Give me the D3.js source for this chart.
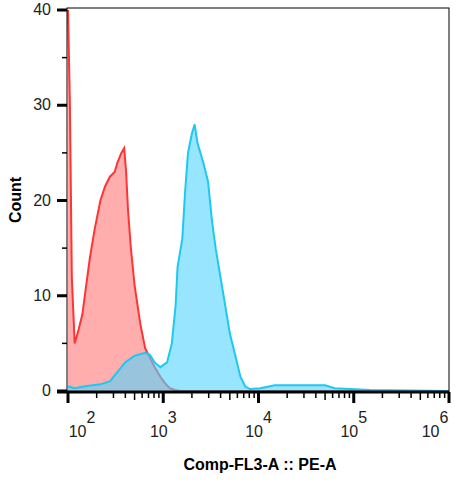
<!DOCTYPE html>
<html><head><meta charset="utf-8">
<script src="https://cdn.jsdelivr.net/npm/d3@7"></script>
<style>body{margin:0;background:#fff}text{font-family:"Liberation Sans",Arial,sans-serif}</style>
</head><body><svg id="c" width="469" height="484"></svg>
<script>
// log10 of intensity
const redLog = [2.00,2.02,2.04,2.07,2.10,2.15,2.19,2.23,2.28,2.34,2.39,2.44,2.49,2.52,2.56,2.59,2.61,2.63,2.66,2.70,2.76,2.81,2.86,2.91,2.97,3.02,3.07,3.12,3.18,6.0];
const redCount = [40,30,12,5,6,8,11,14,17,20,21.5,22.5,23,24,25,25.5,23,19,15,11,7,4.5,3.5,2.5,1.5,0.8,0.3,0.1,0,0];
const blueLog = [2.00,2.07,2.18,2.34,2.44,2.52,2.60,2.70,2.81,2.86,2.91,2.97,3.04,3.09,3.13,3.15,3.20,3.23,3.26,3.30,3.33,3.36,3.42,3.47,3.51,3.55,3.60,3.65,3.70,3.75,3.81,3.86,3.91,4.02,4.17,4.44,4.70,4.80,5.17,6.0];
const blueCount = [0.5,0.3,0.5,0.7,1,2,3,3.7,4,3.8,3,2.5,3,5,9,13,16,21,25,27,28,26,24,22,18,15,12,9,6,4,1.5,0.5,0.2,0.3,0.6,0.6,0.6,0.3,0.1,0];
const yTicks = [0,10,20,30,40];
const xExp = [2,3,4,5,6];

const svg = d3.select("#c");
const L=67,R=449,T=8,B=392;
const x = d3.scaleLog().domain([1e2,1e6]).range([L+1,R]);
const y = d3.scaleLinear().domain([0,40]).range([B-1,10]);

function draw(lg,cnt,fill,stroke,op){
  const d = lg.map((v,i)=>[Math.pow(10,v),cnt[i]]);
  svg.append("path").datum(d).attr("fill",fill).attr("fill-opacity",op)
    .attr("d",d3.area().x(p=>x(p[0])).y0(y(0)).y1(p=>y(p[1])));
  svg.append("path").datum(d).attr("fill","none").attr("stroke",stroke).attr("stroke-width",2)
    .attr("d",d3.line().x(p=>x(p[0])).y(p=>y(p[1])));
}
draw(redLog,redCount,"#FFADAD","#FF3535",1);
draw(blueLog,blueCount,"#54D4FF","#1EC8F0",0.6);

svg.append("rect").attr("x",L).attr("y",T).attr("width",R-L).attr("height",B-T)
  .attr("fill","none").attr("stroke","#000").attr("stroke-width",1);

// y ticks
d3.range(0,41,5).forEach(v=>{
  const maj = v%10===0;
  svg.append("line").attr("x1",maj?57:62).attr("x2",L).attr("y1",y(v)).attr("y2",y(v))
    .attr("stroke","#000").attr("stroke-width",maj?3:1.5);
});
yTicks.forEach(v=>svg.append("text").attr("x",51).attr("y",y(v)+5).attr("text-anchor","end")
  .attr("font-size",16).attr("fill","#222").text(v));
svg.append("line").attr("x1",57).attr("x2",R).attr("y1",B).attr("y2",B).attr("stroke","#000").attr("stroke-width",3);

// x ticks
xExp.forEach((e,i)=>{
  svg.append("line").attr("x1",x(10**e)).attr("x2",x(10**e)).attr("y1",B).attr("y2",B+11)
    .attr("stroke","#000").attr("stroke-width",3);
  if(i<xExp.length-1) for(let k=2;k<10;k++){
    const px=x(k*10**e);
    svg.append("line").attr("x1",px).attr("x2",px).attr("y1",B).attr("y2",B+(k===5?8:6))
      .attr("stroke","#000").attr("stroke-width",1.5);
  }
  let cx = Math.min(Math.max(x(10**e),82),435);
  const t = svg.append("text").attr("x",cx).attr("y",437).attr("text-anchor","middle")
    .attr("font-size",16).attr("fill","#222");
  t.append("tspan").text("10");
  t.append("tspan").attr("dy",-14).attr("font-size",16).text(e);
});

svg.append("text").attr("x",260).attr("y",470).attr("text-anchor","middle")
  .attr("font-size",16).attr("font-weight","bold").text("Comp-FL3-A :: PE-A");
svg.append("text").attr("transform","translate(21,200) rotate(-90)").attr("text-anchor","middle")
  .attr("font-size",16).attr("font-weight","bold").text("Count");
</script></body></html>
